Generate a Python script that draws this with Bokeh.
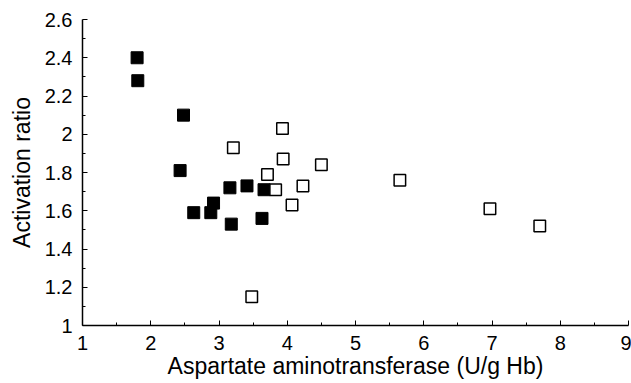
from bokeh.plotting import figure
from bokeh.models import Range1d, FixedTicker
from bokeh.embed import file_html
from bokeh.resources import INLINE

# Filled squares
filled_x = [1.80, 1.81, 2.48, 2.43, 3.16, 3.41, 3.66, 2.92, 2.63, 2.88, 3.18, 3.63]
filled_y = [2.40, 2.28, 2.10, 1.81, 1.72, 1.73, 1.71, 1.64, 1.59, 1.59, 1.53, 1.56]
# Open squares
open_x = [3.93, 3.21, 3.94, 4.50, 3.71, 3.83, 4.23, 4.07, 5.65, 6.97, 7.70, 3.48]
open_y = [2.03, 1.93, 1.87, 1.84, 1.79, 1.71, 1.73, 1.63, 1.76, 1.61, 1.52, 1.15]

x_ticks = [1, 2, 3, 4, 5, 6, 7, 8, 9]
y_ticks = [1.0, 1.2, 1.4, 1.6, 1.8, 2.0, 2.2, 2.4, 2.6]
y_labels = {1.0: "1", 1.2: "1.2", 1.4: "1.4", 1.6: "1.6", 1.8: "1.8",
            2.0: "2", 2.2: "2.2", 2.4: "2.4", 2.6: "2.6"}

FONT = "Liberation Sans"

p = figure(width=631, height=383, output_backend="svg", toolbar_location=None,
           x_range=Range1d(1, 9), y_range=Range1d(1, 2.6),
           frame_width=546, frame_height=306,
           min_border_left=82, min_border_top=19, min_border_right=3, min_border_bottom=58)
p.outline_line_color = None
p.xgrid.visible = False
p.ygrid.visible = False

p.xaxis.ticker = FixedTicker(ticks=x_ticks, minor_ticks=[v + 0.5 for v in x_ticks[:-1]])
p.yaxis.ticker = FixedTicker(ticks=y_ticks, minor_ticks=[round(v + 0.1, 2) for v in y_ticks[:-1]])
p.yaxis.major_label_overrides = y_labels

for ax in (p.xaxis, p.yaxis):
    ax.major_tick_in = 5
    ax.major_tick_out = 0
    ax.minor_tick_in = 3
    ax.minor_tick_out = 0
    ax.axis_line_color = "black"
    ax.axis_line_width = 1.5
    ax.major_tick_line_color = "black"
    ax.minor_tick_line_color = "black"
    ax.major_label_text_font = FONT
    ax.major_label_text_font_size = "20px"
    ax.major_label_text_color = "black"
    ax.axis_label_text_font = FONT
    ax.axis_label_text_font_size = "23px"
    ax.axis_label_text_font_style = "normal"
    ax.axis_label_text_color = "black"

p.xaxis.major_label_standoff = 10
p.yaxis.major_label_standoff = 10
p.xaxis.axis_label = "Aspartate aminotransferase (U/g Hb)"
p.yaxis.axis_label = "Activation ratio"
p.xaxis.axis_label_standoff = 0
p.yaxis.axis_label_standoff = 7

p.scatter(filled_x, filled_y, marker="square", size=12,
          fill_color="black", line_color="black")
p.scatter(open_x, open_y, marker="square", size=11.5,
          fill_color="white", line_color="black", line_width=1.5)

open("out.html", "w").write(file_html(p, INLINE))
